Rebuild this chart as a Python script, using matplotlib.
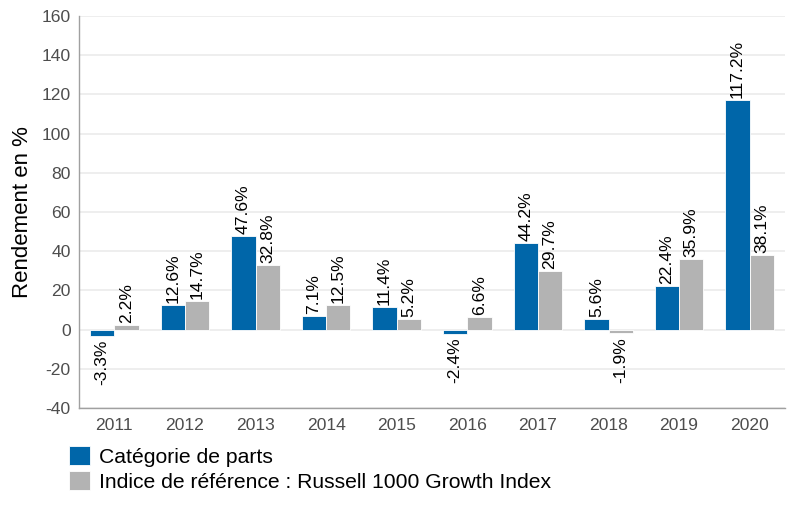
import matplotlib
matplotlib.use("Agg")
import matplotlib.pyplot as plt
import numpy as np

plt.rcParams['font.family'] = ['Liberation Sans', 'DejaVu Sans']
plt.rcParams['axes.unicode_minus'] = False

years = ["2011", "2012", "2013", "2014", "2015", "2016", "2017", "2018", "2019", "2020"]
fund = [-3.3, 12.6, 47.6, 7.1, 11.4, -2.4, 44.2, 5.6, 22.4, 117.2]
bench = [2.2, 14.7, 32.8, 12.5, 5.2, 6.6, 29.7, -1.9, 35.9, 38.1]
series_names = ["Catégorie de parts", "Indice de référence : Russell 1000 Growth Index"]
colors = ["#0066a9", "#b3b3b3"]

fig = plt.figure(figsize=(7.9, 5.11), dpi=100)
ax = fig.add_axes([79 / 790, 1 - 408 / 511, 706 / 790, 392 / 511])

x = np.arange(len(years))
w = 0.345
b1 = ax.bar(x - w / 2, fund, w, color=colors[0], edgecolor="white", linewidth=0.6,
            label=series_names[0], zorder=3)
b2 = ax.bar(x + w / 2, bench, w, color=colors[1], edgecolor="white", linewidth=0.6,
            label=series_names[1], zorder=3)

for bars, vals in ((b1, fund), (b2, bench)):
    for rect, v in zip(bars, vals):
        cx = rect.get_x() + rect.get_width() / 2
        off = 1.5 if v >= 0 else -2.5
        ax.annotate(f"{v}%", (cx, v), xytext=(0, off), textcoords="offset points",
                    rotation=90, ha="center", va="bottom" if v >= 0 else "top",
                    fontsize=12.6, color="black", zorder=4)

ax.set_xlim(-0.5, len(years) - 0.5)
ax.set_ylim(-40, 160)
ax.set_yticks(range(-40, 161, 20))
ax.set_xticks(x)
ax.set_xticklabels(years)
ax.tick_params(axis="both", length=0, labelsize=12.6, colors="#4d4d4d")
ax.tick_params(axis="x", pad=7)
ax.tick_params(axis="y", pad=6)
ax.yaxis.grid(True, color="#ebebeb", linewidth=1.2, zorder=0)
ax.set_axisbelow(True)
for s in ("top", "right"):
    ax.spines[s].set_visible(False)
for s in ("left", "bottom"):
    ax.spines[s].set_color("#a0a0a0")
    ax.spines[s].set_linewidth(1)
ax.set_ylabel("Rendement en %", fontsize=16, color="black", labelpad=6)

fig.legend(handles=[b1, b2], labels=series_names, loc="upper left",
           bbox_to_anchor=(69 / 790, 1 - 446 / 511), frameon=False, fontsize=15.2,
           handlelength=1.0, handleheight=1.0, handletextpad=0.4,
           labelspacing=0.2, borderpad=0, borderaxespad=0)

fig.savefig("out.png", dpi=100)
